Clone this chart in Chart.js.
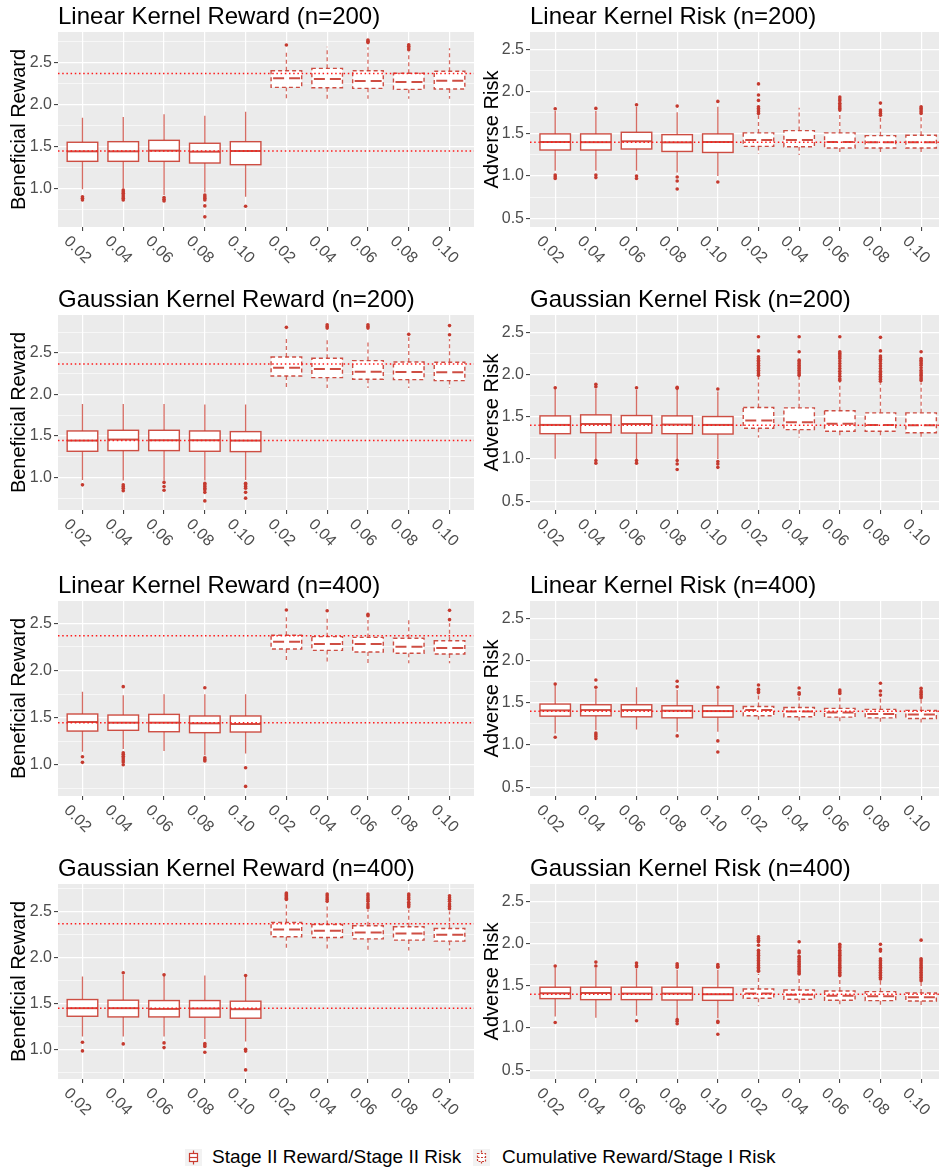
<!DOCTYPE html>
<html>
<head>
<meta charset="utf-8">
<script src="https://cdn.jsdelivr.net/npm/chart.js@4.4.1/dist/chart.umd.min.js"></script>
<style>
  body { margin: 0; background: #fff; width: 943px; height: 1171px; position: relative; overflow: hidden;
         font-family: "Liberation Sans", Arial, sans-serif; }
  canvas.panel { position: absolute; }
  .lg { position: absolute; font-size: 19px; line-height: 22px; color: #000; white-space: nowrap; }
  .key { position: absolute; }
</style>
</head>
<body>
<canvas class="key" id="key1" width="17" height="17" style="left:185px;top:1149px"></canvas>
<span class="lg" style="left:212px;top:1146px">Stage II Reward/Stage II Risk</span>
<canvas class="key" id="key2" width="17" height="17" style="left:473px;top:1149px"></canvas>
<span class="lg" style="left:502px;top:1146px">Cumulative Reward/Stage I Risk</span>

<script>
// categories: first five = Stage II, last five = cumulative / stage I
const xLabels = ['0.02', '0.04', '0.06', '0.08', '0.10', '0.02', '0.04', '0.06', '0.08', '0.10'];
const rewardRefs = [2.367, 1.445];
const riskRefs = [1.40];

// y limits (ggplot expanded ranges)
const linRew200Lim = [0.539, 2.861];
const gauRew200Lim = [0.607, 2.958];
const linRew400Lim = [0.668, 2.737];
const gauRew400Lim = [0.676, 2.799];
const riskLim = [0.395, 2.705];
const yTickValues = [0.25, 0.5, 0.75, 1.0, 1.25, 1.5, 1.75, 2.0, 2.25, 2.5, 2.75, 3.0];

// [lower whisker, q1, median, q3, upper whisker]
const linRew200Box = [
  [0.99, 1.321, 1.44, 1.548, 1.84], [1.00, 1.321, 1.44, 1.555, 1.849], [0.92, 1.321, 1.448, 1.571, 1.881],
  [0.95, 1.301, 1.436, 1.536, 1.864], [0.90, 1.281, 1.444, 1.555, 1.912],
  [2.067, 2.202, 2.31, 2.40, 2.646], [2.067, 2.198, 2.30, 2.428, 2.686], [2.067, 2.19, 2.277, 2.40, 2.68],
  [2.067, 2.178, 2.265, 2.369, 2.626], [2.067, 2.182, 2.281, 2.393, 2.667]
];
const linRew200Out = [
  [0.90, 0.88, 0.86], [0.98, 0.96, 0.94, 0.92, 0.90, 0.88, 0.86], [0.89, 0.87, 0.85],
  [0.92, 0.90, 0.88, 0.86, 0.79, 0.66], [0.786],
  [2.706], [], [2.765, 2.75, 2.735], [2.71, 2.69, 2.67, 2.65], []
];

const linRisk200Box = [
  [1.06, 1.307, 1.402, 1.498, 1.77], [1.06, 1.307, 1.40, 1.498, 1.77], [1.06, 1.319, 1.41, 1.517, 1.82],
  [1.04, 1.29, 1.398, 1.489, 1.755], [1.00, 1.278, 1.402, 1.498, 1.82],
  [1.259, 1.35, 1.426, 1.51, 1.72], [1.247, 1.346, 1.426, 1.537, 1.808], [1.27, 1.33, 1.402, 1.51, 1.767],
  [1.27, 1.33, 1.398, 1.477, 1.696], [1.27, 1.33, 1.398, 1.481, 1.72]
];
const linRisk200Out = [
  [1.796, 1.01, 0.99, 0.97], [1.80, 1.01, 0.98], [1.844, 1.00, 0.97], [1.827, 0.988, 0.94, 0.845], [1.883, 0.928],
  [2.09, 1.958, 1.895, 1.82, 1.80, 1.78, 1.76, 1.74], [],
  [1.934, 1.91, 1.89, 1.86, 1.84, 1.82, 1.80, 1.78], [1.863, 1.78, 1.76, 1.74, 1.72], [1.82, 1.80, 1.78, 1.76, 1.74]
];

const gauRew200Box = [
  [0.97, 1.315, 1.444, 1.56, 1.886], [0.962, 1.323, 1.456, 1.568, 1.886], [0.962, 1.323, 1.448, 1.568, 1.886],
  [0.962, 1.315, 1.448, 1.56, 1.878], [0.97, 1.311, 1.444, 1.552, 1.878],
  [2.082, 2.223, 2.323, 2.452, 2.70], [2.078, 2.203, 2.307, 2.436, 2.669], [2.078, 2.183, 2.275, 2.408, 2.649],
  [2.078, 2.179, 2.271, 2.392, 2.69], [2.078, 2.167, 2.267, 2.388, 2.669]
];
const gauRew200Out = [
  [0.91], [0.91, 0.89, 0.87, 0.84], [0.94, 0.89, 0.845], [0.93, 0.91, 0.89, 0.87, 0.85, 0.82, 0.717],
  [0.93, 0.91, 0.89, 0.87, 0.82, 0.75],
  [2.809], [2.84, 2.82, 2.80], [2.84, 2.82, 2.80], [2.725], [2.72, 2.83]
];

const gauRisk200Box = [
  [1.001, 1.299, 1.403, 1.51, 1.83], [1.0, 1.311, 1.414, 1.522, 1.83], [1.0, 1.307, 1.414, 1.514, 1.82],
  [1.0, 1.299, 1.407, 1.51, 1.82], [1.0, 1.295, 1.403, 1.502, 1.80],
  [1.255, 1.363, 1.454, 1.609, 1.967], [1.255, 1.347, 1.434, 1.605, 1.983], [1.271, 1.327, 1.418, 1.57, 1.916],
  [1.271, 1.327, 1.403, 1.546, 1.896], [1.255, 1.311, 1.399, 1.546, 1.904]
];
const gauRisk200Out = [
  [1.844], [1.884, 1.856, 0.981, 0.95], [1.844, 0.98, 0.95], [1.85, 1.836, 0.98, 0.94, 0.874], [1.828, 0.97, 0.94, 0.90],
  [2.448, 2.28, 2.21, 2.19, 2.17, 2.15, 2.13, 2.11, 2.09, 2.07, 2.05, 2.03, 2.01, 1.99],
  [2.448, 2.27, 2.17, 2.15, 2.13, 2.11, 2.09, 2.07, 2.05, 2.03, 2.01, 1.99],
  [2.448, 2.27, 2.25, 2.23, 2.21, 2.19, 2.16, 2.13, 2.10, 2.07, 2.04, 2.01, 1.98, 1.95, 1.93],
  [2.44, 2.28, 2.22, 2.20, 2.18, 2.16, 2.13, 2.10, 2.07, 2.04, 2.02, 2.00, 1.98, 1.96, 1.94, 1.92],
  [2.27, 2.19, 2.17, 2.15, 2.13, 2.11, 2.08, 2.05, 2.03, 2.01, 1.99, 1.97, 1.95, 1.93]
];

const linRew400Box = [
  [1.138, 1.357, 1.453, 1.538, 1.775], [1.166, 1.365, 1.446, 1.527, 1.736], [1.145, 1.35, 1.446, 1.534, 1.747],
  [1.10, 1.34, 1.439, 1.517, 1.747], [1.12, 1.347, 1.432, 1.517, 1.747],
  [2.10, 2.228, 2.305, 2.373, 2.58], [2.093, 2.213, 2.281, 2.359, 2.571], [2.076, 2.196, 2.281, 2.351, 2.535],
  [2.076, 2.182, 2.252, 2.341, 2.542], [2.076, 2.175, 2.238, 2.316, 2.50]
];
const linRew400Out = [
  [1.085, 1.025], [1.828, 1.127, 1.11, 1.09, 1.07, 1.05, 1.03, 1.0], [], [1.817, 1.074, 1.055, 1.04], [0.968, 0.77],
  [2.641], [2.634], [2.595, 2.58], [], [2.539, 2.638]
];

const linRisk400Box = [
  [1.135, 1.341, 1.409, 1.484, 1.71], [1.175, 1.345, 1.413, 1.476, 1.66], [1.183, 1.333, 1.413, 1.476, 1.683],
  [1.155, 1.321, 1.405, 1.464, 1.651], [1.155, 1.329, 1.401, 1.464, 1.66],
  [1.262, 1.345, 1.413, 1.456, 1.60], [1.274, 1.333, 1.397, 1.444, 1.571], [1.274, 1.329, 1.385, 1.433, 1.591],
  [1.266, 1.321, 1.365, 1.421, 1.552], [1.262, 1.313, 1.361, 1.409, 1.545]
];
const linRisk400Out = [
  [1.722, 1.091], [1.77, 1.683, 1.14, 1.12, 1.10, 1.075], [], [1.754, 1.69, 1.107], [1.683, 1.048, 0.917],
  [1.71, 1.66, 1.64, 1.62], [1.675, 1.619, 1.60], [1.65, 1.63, 1.61], [1.73, 1.639, 1.59], [1.67, 1.64, 1.62, 1.60, 1.58, 1.56]
];

const gauRew400Box = [
  [1.138, 1.359, 1.447, 1.541, 1.792], [1.138, 1.352, 1.447, 1.534, 1.81], [1.138, 1.352, 1.439, 1.53, 1.80],
  [1.112, 1.349, 1.443, 1.53, 1.803], [1.083, 1.338, 1.436, 1.523, 1.79],
  [2.10, 2.224, 2.304, 2.38, 2.60], [2.09, 2.217, 2.289, 2.358, 2.58], [2.075, 2.202, 2.271, 2.344, 2.52],
  [2.075, 2.188, 2.26, 2.333, 2.52], [2.075, 2.177, 2.246, 2.315, 2.50]
];
const gauRew400Out = [
  [1.076, 0.982], [1.832, 1.058], [1.81, 1.069, 1.018], [1.062, 1.045, 1.03, 0.967], [1.803, 1.0, 0.98, 0.775],
  [2.70, 2.69, 2.68, 2.67, 2.66, 2.65, 2.64, 2.63], [2.69, 2.67, 2.65, 2.63, 2.61],
  [2.69, 2.67, 2.65, 2.63, 2.61, 2.58, 2.56, 2.54], [2.69, 2.67, 2.65, 2.63, 2.60, 2.58, 2.57, 2.55],
  [2.67, 2.65, 2.63, 2.61, 2.58, 2.56, 2.55, 2.53]
];

const gauRisk400Box = [
  [1.136, 1.347, 1.411, 1.482, 1.72], [1.12, 1.335, 1.414, 1.482, 1.71], [1.144, 1.335, 1.407, 1.482, 1.70],
  [1.116, 1.331, 1.407, 1.482, 1.69], [1.116, 1.327, 1.399, 1.478, 1.69],
  [1.263, 1.351, 1.407, 1.462, 1.64], [1.287, 1.339, 1.394, 1.45, 1.61], [1.275, 1.327, 1.382, 1.438, 1.59],
  [1.275, 1.323, 1.375, 1.43, 1.56], [1.255, 1.319, 1.363, 1.414, 1.54]
];
const gauRisk400Out = [
  [1.733, 1.065], [1.78, 1.733], [1.77, 1.74, 1.725, 1.085], [1.76, 1.74, 1.72, 1.10, 1.08, 1.05],
  [1.75, 1.73, 1.72, 1.08, 1.065, 0.925],
  [2.08, 2.06, 2.04, 2.02, 1.98, 1.92, 1.90, 1.88, 1.86, 1.84, 1.82, 1.80, 1.78, 1.76, 1.74, 1.72, 1.70, 1.68, 1.67],
  [2.02, 1.91, 1.89, 1.85, 1.83, 1.81, 1.79, 1.77, 1.75, 1.73, 1.71, 1.69, 1.67, 1.65, 1.64],
  [1.99, 1.97, 1.95, 1.92, 1.90, 1.88, 1.86, 1.84, 1.82, 1.80, 1.78, 1.76, 1.74, 1.72, 1.70, 1.68, 1.66, 1.64, 1.62],
  [1.99, 1.93, 1.91, 1.82, 1.80, 1.78, 1.76, 1.74, 1.72, 1.70, 1.68, 1.66, 1.64, 1.62, 1.60, 1.58],
  [2.04, 1.82, 1.80, 1.78, 1.76, 1.74, 1.72, 1.70, 1.68, 1.66, 1.64, 1.62, 1.60, 1.58, 1.56]
];

const panels = [
  { title: 'Linear Kernel Reward (n=200)', yTitle: 'Beneficial Reward', box: linRew200Box, out: linRew200Out, refs: rewardRefs, lim: linRew200Lim, col: 0, top: 0 },
  { title: 'Linear Kernel Risk (n=200)', yTitle: 'Adverse Risk', box: linRisk200Box, out: linRisk200Out, refs: riskRefs, lim: riskLim, col: 1, top: 0 },
  { title: 'Gaussian Kernel Reward (n=200)', yTitle: 'Beneficial Reward', box: gauRew200Box, out: gauRew200Out, refs: rewardRefs, lim: gauRew200Lim, col: 0, top: 283 },
  { title: 'Gaussian Kernel Risk (n=200)', yTitle: 'Adverse Risk', box: gauRisk200Box, out: gauRisk200Out, refs: riskRefs, lim: riskLim, col: 1, top: 283 },
  { title: 'Linear Kernel Reward (n=400)', yTitle: 'Beneficial Reward', box: linRew400Box, out: linRew400Out, refs: rewardRefs, lim: linRew400Lim, col: 0, top: 569 },
  { title: 'Linear Kernel Risk (n=400)', yTitle: 'Adverse Risk', box: linRisk400Box, out: linRisk400Out, refs: riskRefs, lim: riskLim, col: 1, top: 569 },
  { title: 'Gaussian Kernel Reward (n=400)', yTitle: 'Beneficial Reward', box: gauRew400Box, out: gauRew400Out, refs: rewardRefs, lim: gauRew400Lim, col: 0, top: 852 },
  { title: 'Gaussian Kernel Risk (n=400)', yTitle: 'Adverse Risk', box: gauRisk400Box, out: gauRisk400Out, refs: riskRefs, lim: riskLim, col: 1, top: 852 }
];

const cols = [
  { left: 0, width: 478, axisW: 58, titlePad: 7.8, xMin: -0.6, xMax: 9.6 },
  { left: 478, width: 465, axisW: 52, titlePad: 2.3, xMin: -0.62, xMax: 9.44 }
];
const CANVAS_H = 275, PLOT_TOP = 32, PLOT_H = 195, BOX_W = 0.75;
const RED = '#C93B2F';
const FONT = '"Liberation Sans", Arial, Helvetica, sans-serif';

Chart.defaults.font.family = FONT;

const isMajor = v => Math.abs(v * 2 - Math.round(v * 2)) < 1e-6;

// draws the grey panel, boxes/whiskers, reference lines and slanted x labels
const boxPlot = {
  id: 'boxPlot',
  beforeDraw(chart) {
    const { ctx, chartArea: a } = chart;
    ctx.save();
    ctx.fillStyle = '#EBEBEB';
    ctx.fillRect(a.left, a.top, a.width, a.height);
    ctx.restore();
  },
  beforeDatasetsDraw(chart, args, opts) {
    const { ctx, scales: { x, y } } = chart;
    const half = x.getPixelForValue(BOX_W / 2) - x.getPixelForValue(0);
    ctx.save();
    ctx.strokeStyle = RED;
    opts.stats.forEach((s, i) => {
      const [lo, q1, med, q3, hi] = s.map(v => y.getPixelForValue(v));
      const cum = i >= 5;
      const cx = x.getPixelForValue(i);
      ctx.globalAlpha = 0.75;
      ctx.lineWidth = 1.3;
      ctx.setLineDash(cum ? [4, 3] : []);
      ctx.beginPath();
      ctx.moveTo(cx, q3); ctx.lineTo(cx, hi);
      ctx.moveTo(cx, q1); ctx.lineTo(cx, lo);
      ctx.stroke();
      ctx.globalAlpha = 1;
      ctx.fillStyle = '#FFFFFF';
      ctx.fillRect(cx - half, q3, 2 * half, q1 - q3);
      ctx.globalAlpha = 0.9;
      ctx.lineWidth = 1.4;
      ctx.strokeRect(cx - half, q3, 2 * half, q1 - q3);
      ctx.lineWidth = 2;
      ctx.setLineDash(cum ? [11, 5] : []);
      ctx.beginPath();
      ctx.moveTo(cx - half + (cum ? 2 : 0), med); ctx.lineTo(cx + half, med);
      ctx.stroke();
    });
    ctx.restore();
  },
  afterDatasetsDraw(chart, args, opts) {
    const { ctx, chartArea: a, scales: { x, y } } = chart;
    ctx.save();
    ctx.strokeStyle = '#FF1A1A';
    ctx.lineWidth = 1.5;
    ctx.setLineDash([1.5, 2.7]);
    opts.refs.forEach(v => {
      const py = y.getPixelForValue(v);
      ctx.beginPath();
      ctx.moveTo(a.left, py); ctx.lineTo(a.right, py);
      ctx.stroke();
    });
    ctx.setLineDash([]);
    ctx.fillStyle = '#4D4D4D';
    ctx.font = '16px ' + FONT;
    ctx.textAlign = 'center';
    ctx.textBaseline = 'middle';
    x.ticks.forEach(t => {
      ctx.save();
      ctx.translate(x.getPixelForValue(t.value) - 5, a.bottom + 23);
      ctx.rotate(Math.PI / 4);
      ctx.fillText(xLabels[t.value], 0, 0);
      ctx.restore();
    });
    ctx.restore();
  }
};

panels.forEach(p => {
  const c = cols[p.col];
  const cv = document.createElement('canvas');
  cv.className = 'panel';
  cv.width = c.width;
  cv.height = CANVAS_H;
  cv.style.left = c.left + 'px';
  cv.style.top = p.top + 'px';
  document.body.appendChild(cv);

  const points = p.out.flatMap((vals, i) => vals.map(v => ({ x: i, y: v })));
  const yTicks = yTickValues.filter(v => v > p.lim[0] && v < p.lim[1]);

  new Chart(cv, {
    type: 'scatter',
    data: {
      datasets: [{
        data: points,
        pointRadius: 1.8,
        pointBackgroundColor: '#C53A2F',
        pointBorderWidth: 0
      }]
    },
    options: {
      responsive: false,
      animation: false,
      devicePixelRatio: 1,
      events: [],
      layout: { padding: 0 },
      plugins: {
        legend: { display: false },
        tooltip: { enabled: false },
        title: {
          display: true, text: p.title, align: 'start', fullSize: false, color: '#000',
          font: { size: 24, weight: 'normal' }, padding: { top: 2.7, bottom: 0.5 }
        },
        boxPlot: { stats: p.box, refs: p.refs }
      },
      scales: {
        x: {
          type: 'linear', min: c.xMin, max: c.xMax,
          afterBuildTicks: s => { s.ticks = xLabels.map((l, i) => ({ value: i })); },
          afterFit: s => { s.height = CANVAS_H - PLOT_TOP - PLOT_H; },
          ticks: { display: false },
          border: { display: false },
          grid: { color: '#FFFFFF', lineWidth: 1.2, tickLength: 4, tickColor: '#333333', tickWidth: 1 }
        },
        y: {
          min: p.lim[0], max: p.lim[1],
          afterBuildTicks: s => { s.ticks = yTicks.map(v => ({ value: v })); },
          afterFit: s => { s.width = c.axisW; },
          border: { display: false },
          ticks: {
            color: '#4D4D4D', font: { size: 16 }, padding: 2,
            callback: v => isMajor(v) ? v.toFixed(1) : ''
          },
          grid: {
            color: '#FFFFFF',
            lineWidth: ctx => (ctx.tick && isMajor(ctx.tick.value)) ? 1.2 : 0.6,
            tickLength: 4,
            tickWidth: 1,
            tickColor: ctx => (ctx.tick && isMajor(ctx.tick.value)) ? '#333333' : 'rgba(0,0,0,0)'
          },
          title: {
            display: true, text: p.yTitle, color: '#000',
            font: { size: 20 }, padding: { top: c.titlePad, bottom: 0 }
          }
        }
      }
    },
    plugins: [boxPlot]
  });
});

// legend keys
function drawKey(id, dashed) {
  const ctx = document.getElementById(id).getContext('2d');
  ctx.fillStyle = '#F2F2F2';
  ctx.fillRect(0, 0, 17, 17);
  ctx.strokeStyle = RED;
  ctx.lineWidth = 1.2;
  ctx.setLineDash(dashed ? [2, 1.5] : []);
  ctx.beginPath();
  ctx.moveTo(8.5, 1.5); ctx.lineTo(8.5, 4.5);
  ctx.moveTo(8.5, 12.5); ctx.lineTo(8.5, 15.5);
  ctx.stroke();
  ctx.fillStyle = '#fff';
  ctx.fillRect(4.5, 4.5, 8, 8);
  ctx.strokeRect(4.5, 4.5, 8, 8);
  ctx.beginPath();
  ctx.moveTo(4.5, 8.5); ctx.lineTo(12.5, 8.5);
  ctx.stroke();
}
drawKey('key1', false);
drawKey('key2', true);
</script>
</body>
</html>
